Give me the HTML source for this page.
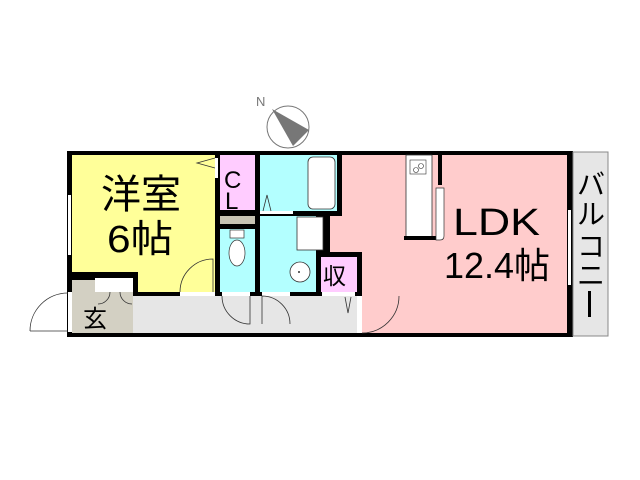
<!DOCTYPE html>
<html><head><meta charset="utf-8"><style>
html,body{margin:0;padding:0;background:#fff;}
svg{display:block}
text{font-family:"Liberation Sans","Noto Sans CJK JP",sans-serif;}
</style></head><body>
<svg width="640" height="480" viewBox="0 0 640 480" xmlns="http://www.w3.org/2000/svg">
<rect width="640" height="480" fill="#fff"/>
<circle cx="288" cy="127" r="21" fill="#fff" stroke="#777" stroke-width="1"/>
<polygon points="272,109 309,130 293,146" fill="#777"/>
<text x="256" y="106" font-size="13" fill="#777">N</text>

<rect x="67" y="151" width="506" height="186" fill="#000"/>
<rect x="72" y="155" width="143" height="117" fill="#ffff99"/>
<rect x="138" y="272" width="77" height="20" fill="#ffff99"/>
<rect x="72" y="280" width="61" height="53" fill="#d3d0c3"/>
<rect x="95" y="278" width="38" height="14" fill="#fff"/>
<rect x="138" y="296" width="219" height="37" fill="#e6e6e6"/>
<rect x="133" y="296" width="5" height="37" fill="#e6e6e6"/>
<rect x="220" y="155" width="35" height="55" fill="#ffccff"/>
<rect x="220" y="216" width="35" height="8" fill="#c8c4b4"/>
<rect x="220" y="229" width="35" height="63" fill="#b3ffff"/>
<ellipse cx="237" cy="253" rx="8" ry="13" fill="#fff" stroke="#333" stroke-width="0.7"/>
<rect x="230" y="230" width="14" height="8" fill="#fff" stroke="#333" stroke-width="0.7"/>
<rect x="260" y="155" width="77" height="56" fill="#b3ffff"/>
<rect x="308" y="157" width="27" height="52" rx="5" fill="#fff" stroke="#333" stroke-width="0.8"/>
<rect x="260" y="211" width="33" height="3" fill="#fff"/>
<rect x="260" y="216" width="56" height="76" fill="#b3ffff"/>
<rect x="297" y="217" width="26" height="33" fill="#fff" stroke="#333" stroke-width="0.8"/>
<circle cx="300" cy="272" r="10" fill="#fff" stroke="#333" stroke-width="0.8"/>
<circle cx="299" cy="272" r="1" fill="#333"/>
<rect x="321" y="257" width="36" height="35" fill="#ffccff"/>
<rect x="342" y="155" width="225" height="61" fill="#ffcccc"/>
<rect x="330" y="216" width="237" height="36" fill="#ffcccc"/>
<rect x="362" y="252" width="205" height="81" fill="#ffcccc"/>
<rect x="567" y="155" width="6" height="25" fill="#000"/>
<rect x="406" y="155" width="26" height="83" fill="#fff" stroke="#333" stroke-width="0.8"/>
<rect x="410" y="160" width="16" height="14" fill="#fff" stroke="#333" stroke-width="0.6"/>
<circle cx="416" cy="170" r="2.5" fill="none" stroke="#333" stroke-width="0.6"/>
<circle cx="421" cy="166" r="2.5" fill="none" stroke="#333" stroke-width="0.6"/>
<rect x="404" y="236" width="34" height="4" fill="#000"/>
<rect x="438" y="155" width="4" height="30" fill="#000"/>
<path d="M436,188 h8 v48 q0,4 -4,4 h-4 z" fill="#fff" stroke="#333" stroke-width="0.7"/>
<rect x="180" y="292" width="35" height="4" fill="#fff"/>
<rect x="222" y="292" width="28" height="4" fill="#fff"/>
<rect x="262" y="292" width="28" height="4" fill="#fff"/>
<rect x="322" y="292" width="33" height="4" fill="#fff"/>
<rect x="357" y="296" width="5" height="37" fill="#fff"/>
<g fill="none" stroke="#333" stroke-width="0.8">
<path d="M180,292 A33,33 0 0 1 213,259 V292"/>
<path d="M222,296 A28,28 0 0 0 250,324 V296"/>
<path d="M262,296 A28,28 0 0 1 290,324 M262,296 V324"/>
<path d="M362,333 A37,37 0 0 0 399,296"/>
<path d="M30,331 A38,38 0 0 1 68,293"/>
<line x1="30" y1="331" x2="68" y2="331"/>
<path d="M120,292 A12,12 0 0 0 132,304 M110,292 A12,12 0 0 1 98,304"/>
<polyline points="215,168 197,163 215,158"/>
<polyline points="263,211 267,195 271,211"/>
<polyline points="345,297 348,313 351,297"/>
</g>
<rect x="68" y="195" width="3" height="60" fill="#fff"/>
<rect x="215" y="158" width="3" height="20" fill="#fff"/>
<rect x="568" y="210" width="3" height="75" fill="#fff"/>
<rect x="68" y="292" width="4" height="40" fill="#fff"/>
<rect x="573" y="152" width="35" height="184" fill="#e6e6e6" stroke="#888" stroke-width="1"/>
<text x="101" y="208" font-size="40" textLength="80" lengthAdjust="spacingAndGlyphs">洋室</text>
<text x="107" y="252" font-size="38" textLength="66" lengthAdjust="spacingAndGlyphs">6帖</text>
<text x="224" y="188" font-size="24">C</text>
<text x="225" y="209" font-size="24">L</text>
<text x="323" y="284" font-size="23">収</text>
<text x="83" y="327" font-size="24">玄</text>
<text x="453" y="235" font-size="38" textLength="87" lengthAdjust="spacingAndGlyphs">LDK</text>
<text x="444" y="278" font-size="36" textLength="106" lengthAdjust="spacingAndGlyphs">12.4帖</text>
<text x="577" y="194" font-size="28">バ</text>
<text x="577" y="224" font-size="28">ル</text>
<text x="577" y="256" font-size="28">コ</text>
<text x="577" y="285" font-size="28">ニ</text>
<rect x="588" y="291" width="3" height="26" fill="#000"/>
</svg>
</body></html>
